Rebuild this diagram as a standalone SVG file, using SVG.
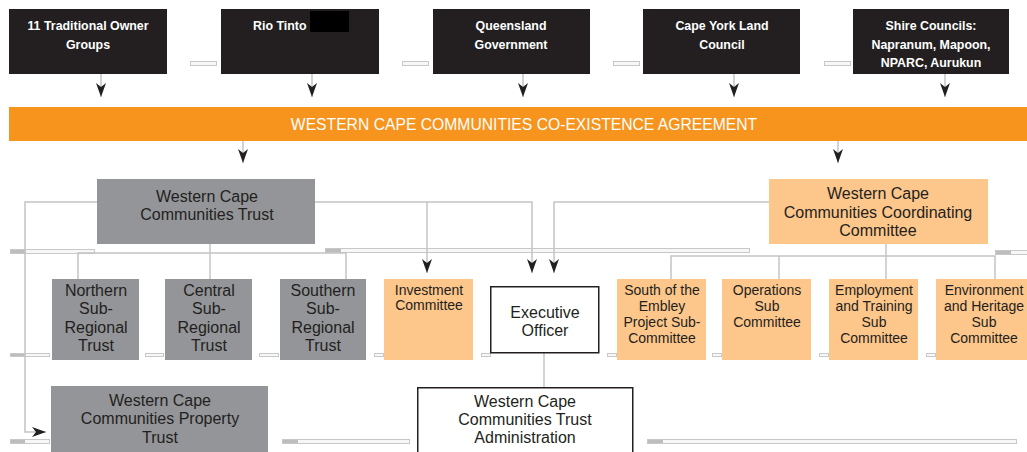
<svg xmlns="http://www.w3.org/2000/svg" width="1027" height="452" viewBox="0 0 1027 452">
<style>
.blk{fill:#231f20}
.gry{fill:#939598}
.pch{fill:#fdc68a}
.wht{fill:#ffffff;stroke:#231f20;stroke-width:1.5}
.tw{font-family:"Liberation Sans",Arial,sans-serif;font-size:12.4px;font-weight:bold;fill:#ffffff;text-anchor:middle}
.tb{font-family:"Liberation Sans",Arial,sans-serif;font-size:16px;fill:#231f20;text-anchor:middle}
.ts{font-family:"Liberation Sans",Arial,sans-serif;font-size:14px;fill:#231f20;text-anchor:middle}
.tbar{font-family:"Liberation Sans",Arial,sans-serif;font-size:15.7px;fill:#ffffff;text-anchor:middle}
.c{fill:none;stroke:#c4c4c4;stroke-width:1.5}
.sb{fill:#f7f7f7;stroke:#c8c8c8;stroke-width:1}
.th{fill:#bdbdbd}
</style>
<defs>
<marker id="ah" viewBox="0 0 14 10" refX="14" refY="5" markerWidth="14" markerHeight="10" markerUnits="userSpaceOnUse" orient="auto">
<path d="M0,0 L14,5 L0,10 L4,5 z" fill="#231f20"/>
</marker>
</defs>

<g id="scrollbars">
<rect class="sb" x="190.5" y="61.5" width="26" height="4"/>
<rect class="sb" x="402.5" y="61.5" width="26" height="4"/>
<rect class="sb" x="613.5" y="61.5" width="26" height="4"/>
<rect class="sb" x="824.5" y="61.5" width="26" height="4"/>
<rect class="sb" x="10.5" y="249.5" width="84" height="4"/><rect class="th" x="11" y="250" width="15" height="3"/>
<rect class="sb" x="325.5" y="248.5" width="424" height="4"/><rect class="th" x="326" y="249" width="15" height="3"/>
<rect class="sb" x="995.5" y="250.5" width="32" height="4"/><rect class="th" x="996" y="251" width="15" height="3"/>
<rect class="sb" x="10.5" y="353.5" width="39" height="3"/><rect class="th" x="11" y="354" width="14" height="2"/>
<rect class="sb" x="145.5" y="353.5" width="18" height="3"/>
<rect class="sb" x="259.5" y="353.5" width="19" height="3"/>
<rect class="sb" x="374.5" y="353.5" width="9" height="3"/>
<rect class="sb" x="481.5" y="353.5" width="9" height="3"/>
<rect class="sb" x="607.5" y="353.5" width="9" height="3"/>
<rect class="sb" x="712.5" y="353.5" width="9" height="3"/>
<rect class="sb" x="819.5" y="353.5" width="9" height="3"/>
<rect class="sb" x="926.5" y="353.5" width="9" height="3"/>
<rect class="sb" x="10.5" y="439.5" width="39" height="4"/><rect class="th" x="11" y="440" width="14" height="3"/>
<rect class="sb" x="282.5" y="439.5" width="127" height="4"/><rect class="th" x="283" y="440" width="15" height="3"/>
<rect class="sb" x="647.5" y="439.5" width="369" height="4"/><rect class="th" x="648" y="440" width="15" height="3"/>
</g>

<g id="connectors">
<line class="c" x1="101" y1="74" x2="101" y2="97" marker-end="url(#ah)"/>
<line class="c" x1="312" y1="74" x2="312" y2="97" marker-end="url(#ah)"/>
<line class="c" x1="523" y1="74" x2="523" y2="97" marker-end="url(#ah)"/>
<line class="c" x1="734" y1="74" x2="734" y2="97" marker-end="url(#ah)"/>
<line class="c" x1="945" y1="74" x2="945" y2="97" marker-end="url(#ah)"/>
<line class="c" x1="243" y1="141" x2="243" y2="163" marker-end="url(#ah)"/>
<line class="c" x1="838" y1="141" x2="838" y2="163" marker-end="url(#ah)"/>
<polyline class="c" points="97,202 25,202 25,432 46,432" marker-end="url(#ah)"/>
<polyline class="c" points="315,202 532,202 532,273" marker-end="url(#ah)"/>
<line class="c" x1="427" y1="202" x2="427" y2="273" marker-end="url(#ah)"/>
<polyline class="c" points="769,202 554,202 554,273" marker-end="url(#ah)"/>
<polyline class="c" points="210,244 210,253"/>
<polyline class="c" points="78,279 78,253 346,253 346,279"/>
<line class="c" x1="210" y1="253" x2="210" y2="279"/>
<line class="c" x1="886" y1="244" x2="886" y2="256"/>
<polyline class="c" points="671,279 671,256 995,256 995,279"/>
<line class="c" x1="779" y1="256" x2="779" y2="279"/>
<line class="c" x1="886" y1="256" x2="886" y2="279"/>
<line class="c" x1="544" y1="353" x2="544" y2="387"/>
</g>

<g id="n-traditional"><rect class="blk" x="9" y="9" width="158" height="65"/>
<text class="tw" x="88" y="30">11 Traditional Owner</text><text class="tw" x="88" y="49">Groups</text></g>
<g id="n-riotinto"><rect class="blk" x="221" y="9" width="158" height="65"/>
<text class="tw" x="253" y="30" style="text-anchor:start">Rio Tinto</text>
<rect x="310" y="11" width="39" height="21" fill="#000000"/></g>
<g id="n-qld"><rect class="blk" x="433" y="9" width="157" height="65"/>
<text class="tw" x="511" y="30">Queensland</text><text class="tw" x="511" y="49">Government</text></g>
<g id="n-cyl"><rect class="blk" x="643" y="9" width="157" height="65"/>
<text class="tw" x="722" y="30">Cape York Land</text><text class="tw" x="722" y="49">Council</text></g>
<g id="n-shire"><rect class="blk" x="853" y="9" width="156" height="65"/>
<text class="tw" x="931" y="30">Shire Councils:</text><text class="tw" x="931" y="49">Napranum, Mapoon,</text><text class="tw" x="931" y="67">NPARC, Aurukun</text></g>

<g id="n-agreement"><rect x="9" y="107" width="1018" height="34" fill="#f7941d"/>
<text class="tbar" x="524" y="130">WESTERN CAPE COMMUNITIES CO-EXISTENCE AGREEMENT</text></g>

<g id="n-wcct"><rect class="gry" x="97" y="179" width="218" height="65"/>
<text class="tb" x="207" y="202">Western Cape</text><text class="tb" x="207" y="220">Communities Trust</text></g>
<g id="n-wcccc"><rect class="pch" x="769" y="179" width="219" height="65"/>
<text class="tb" x="878" y="199">Western Cape</text><text class="tb" x="878" y="218">Communities Coordinating</text><text class="tb" x="878" y="236">Committee</text></g>

<g id="n-northern"><rect class="gry" x="52" y="279" width="87" height="81"/>
<text class="tb" x="96" y="296">Northern</text><text class="tb" x="96" y="314">Sub-</text><text class="tb" x="96" y="333">Regional</text><text class="tb" x="96" y="351">Trust</text></g>
<g id="n-central"><rect class="gry" x="165" y="279" width="87" height="81"/>
<text class="tb" x="209" y="296">Central</text><text class="tb" x="209" y="314">Sub-</text><text class="tb" x="209" y="333">Regional</text><text class="tb" x="209" y="351">Trust</text></g>
<g id="n-southern"><rect class="gry" x="280" y="279" width="86" height="81"/>
<text class="tb" x="323" y="296">Southern</text><text class="tb" x="323" y="314">Sub-</text><text class="tb" x="323" y="333">Regional</text><text class="tb" x="323" y="351">Trust</text></g>
<g id="n-investment"><rect class="pch" x="384" y="279" width="89" height="81"/>
<text class="ts" x="429" y="295">Investment</text><text class="ts" x="429" y="310">Committee</text></g>
<g id="n-exec"><rect class="wht" x="490.75" y="286.75" width="108" height="66"/>
<text class="tb" x="545" y="318">Executive</text><text class="tb" x="545" y="336">Officer</text></g>
<g id="n-embley"><rect class="pch" x="617" y="279" width="89" height="81"/>
<text class="ts" x="662" y="295">South of the</text><text class="ts" x="662" y="311">Embley</text><text class="ts" x="662" y="327">Project Sub-</text><text class="ts" x="662" y="343">Committee</text></g>
<g id="n-operations"><rect class="pch" x="722" y="279" width="89" height="81"/>
<text class="ts" x="767" y="295">Operations</text><text class="ts" x="767" y="311">Sub</text><text class="ts" x="767" y="327">Committee</text></g>
<g id="n-employment"><rect class="pch" x="829" y="279" width="89" height="81"/>
<text class="ts" x="874" y="295">Employment</text><text class="ts" x="874" y="311">and Training</text><text class="ts" x="874" y="327">Sub</text><text class="ts" x="874" y="343">Committee</text></g>
<g id="n-environment"><rect class="pch" x="936" y="279" width="91" height="81"/>
<text class="ts" x="984" y="295">Environment</text><text class="ts" x="984" y="311">and Heritage</text><text class="ts" x="984" y="327">Sub</text><text class="ts" x="984" y="343">Committee</text></g>

<g id="n-property"><rect class="gry" x="51" y="386" width="217" height="66"/>
<text class="tb" x="160" y="406">Western Cape</text><text class="tb" x="160" y="424">Communities Property</text><text class="tb" x="160" y="443">Trust</text></g>
<g id="n-admin"><rect class="wht" x="417.75" y="387.75" width="215" height="66"/>
<text class="tb" x="525" y="407">Western Cape</text><text class="tb" x="525" y="425">Communities Trust</text><text class="tb" x="525" y="443">Administration</text></g>
</svg>
